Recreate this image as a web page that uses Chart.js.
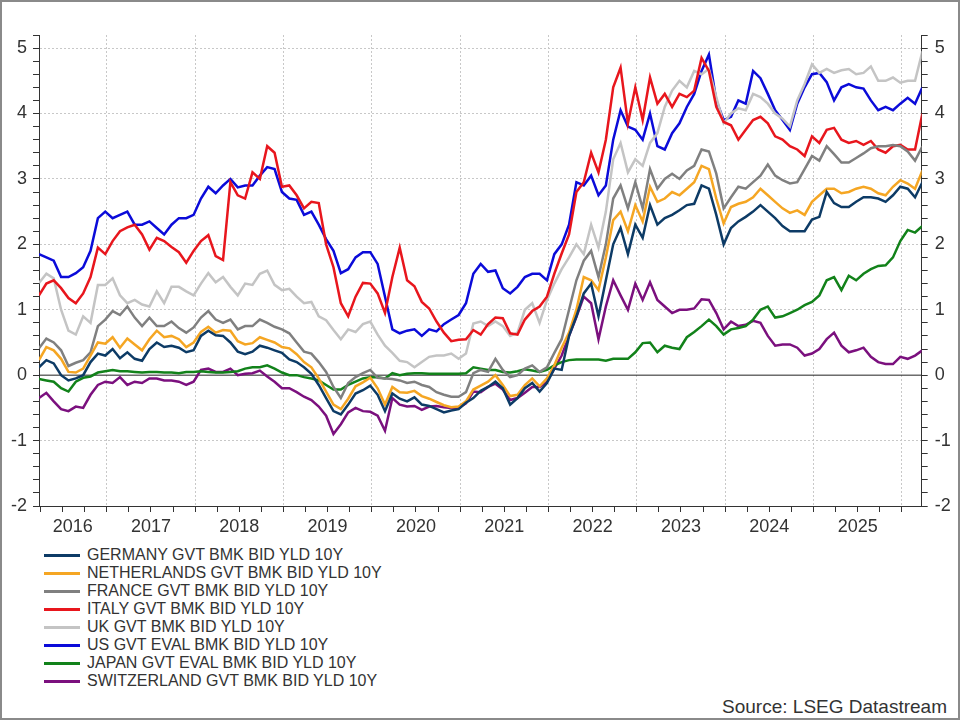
<!DOCTYPE html>
<html lang="en">
<head>
<meta charset="UTF-8">
<title>10Y government benchmark yields</title>
<script src="https://cdn.jsdelivr.net/npm/chart.js"></script>
<style>
  body { margin: 0; background: #fff; font-family: "Liberation Sans", Arial, sans-serif; color: #333; }
  #frame { position: absolute; left: 0; top: 0; width: 960px; height: 720px; box-sizing: border-box; border: 2px solid #8a8a8a; pointer-events: none; }
  #chart { position: absolute; left: 0; top: 0; }
  #legend { position: absolute; left: 44px; top: 546px; font-size: 16px; }
  .row { height: 18px; display: flex; align-items: center; white-space: nowrap; }
  .swatch { width: 36px; height: 3px; margin-right: 7px; }
  #source { position: absolute; right: 13px; top: 696px; font-size: 19px; }
</style>
</head>
<body>
<canvas id="chart" width="960" height="540"></canvas>
<div id="legend"></div>
<div id="source">Source: LSEG Datastream</div>
<div id="frame"></div>

<script>
// monthly observations, first one at the left edge of the plot (late March 2016)
const START = 2016.233;
const X_MIN = 2016.233;
const X_MAX = 2026.225;

const yearLabels = ['2016', '2017', '2018', '2019', '2020', '2021', '2022', '2023', '2024', '2025'];
const yLabels = [-2, -1, 0, 1, 2, 3, 4, 5];

const germany = [0.12,0.23,0.18,0.00,-0.08,-0.05,0.00,0.20,0.33,0.30, 0.40,0.26,0.35,0.25,0.22,0.40,0.50,0.43,0.45,0.42,
  0.35,0.38,0.60,0.68,0.61,0.60,0.50,0.36,0.32,0.36, 0.45,0.42,0.38,0.34,0.24,0.20,0.12,0.02,-0.15,-0.35,
  -0.55,-0.60,-0.45,-0.28,-0.23,-0.16,-0.30,-0.55,-0.28,-0.36, -0.40,-0.34,-0.45,-0.47,-0.52,-0.57,-0.54,-0.52,-0.42,-0.35,
  -0.24,-0.18,-0.10,-0.20,-0.45,-0.35,-0.20,-0.12,-0.25,-0.12, 0.10,0.08,0.60,0.90,1.25,1.40,0.90,1.45,2.00,2.25,
  1.85,2.30,2.10,2.60,2.30,2.40,2.45,2.52,2.60,2.62, 2.90,2.85,2.45,2.00,2.25,2.35,2.42,2.50,2.60,2.50,
  2.40,2.28,2.20,2.20,2.20,2.38,2.42,2.80,2.63,2.57, 2.57,2.65,2.72,2.72,2.70,2.65,2.75,2.88,2.85,2.72,
  2.95];

const netherlands = [0.23,0.43,0.38,0.25,0.05,0.04,0.10,0.30,0.50,0.48, 0.58,0.42,0.56,0.47,0.38,0.55,0.68,0.58,0.60,0.55,
  0.43,0.50,0.66,0.74,0.65,0.69,0.68,0.52,0.47,0.49, 0.58,0.54,0.50,0.43,0.41,0.32,0.20,0.12,-0.05,-0.25,
  -0.45,-0.52,-0.36,-0.17,-0.11,-0.04,-0.20,-0.45,-0.18,-0.26, -0.27,-0.24,-0.32,-0.36,-0.41,-0.46,-0.49,-0.48,-0.40,-0.22,
  -0.16,-0.10,0.00,-0.15,-0.32,-0.30,-0.15,-0.05,-0.17,-0.05, 0.15,0.42,0.65,1.00,1.50,1.45,1.30,1.80,2.37,2.50,
  2.20,2.60,2.35,2.88,2.65,2.70,2.80,2.75,2.85,2.95, 3.20,3.15,2.70,2.32,2.57,2.62,2.65,2.72,2.85,2.75,
  2.65,2.55,2.48,2.52,2.45,2.65,2.75,2.85,2.85,2.78, 2.80,2.85,2.88,2.85,2.78,2.75,2.88,2.98,2.93,2.85,
  3.13];

const france = [0.41,0.56,0.50,0.38,0.14,0.19,0.23,0.35,0.75,0.85, 0.98,0.92,1.05,0.88,0.75,0.88,0.75,0.75,0.82,0.72,
  0.65,0.73,0.88,0.98,0.85,0.80,0.85,0.70,0.75,0.75, 0.85,0.80,0.74,0.70,0.64,0.50,0.36,0.33,0.20,0.05,
  -0.18,-0.35,-0.12,-0.03,0.03,0.08,-0.04,-0.05,-0.06,-0.08, -0.12,-0.10,-0.15,-0.18,-0.26,-0.30,-0.33,-0.33,-0.26,0.03,
  0.08,0.05,0.25,0.08,-0.03,0.00,0.10,0.15,0.05,0.12, 0.34,0.55,1.00,1.45,1.75,1.90,1.50,2.00,2.70,2.90,
  2.55,2.95,2.55,3.15,2.85,3.00,3.08,3.00,3.13,3.20, 3.45,3.42,3.08,2.55,2.72,2.88,2.85,2.95,3.05,3.22,
  3.05,2.98,2.93,2.95,3.15,3.35,3.28,3.50,3.38,3.25, 3.25,3.32,3.39,3.47,3.50,3.50,3.52,3.50,3.42,3.28,
  3.50];

const italy = [1.22,1.40,1.45,1.33,1.18,1.10,1.25,1.50,1.95,1.85, 2.05,2.20,2.26,2.30,2.15,1.92,2.10,2.05,1.96,1.88,
  1.72,1.90,2.05,2.14,1.82,1.76,2.95,2.75,2.70,3.10, 3.00,3.50,3.40,2.88,2.90,2.75,2.55,2.65,2.63,2.00,
  1.65,1.10,0.90,1.20,1.41,1.40,1.25,0.95,1.50,1.95, 1.45,1.36,1.12,1.02,0.82,0.65,0.52,0.54,0.55,0.69,
  0.62,0.78,0.88,0.87,0.64,0.62,0.85,0.98,1.05,1.20, 1.55,1.86,2.15,2.80,2.95,3.40,3.10,3.60,4.40,4.70,
  3.85,4.40,3.90,4.55,4.15,4.30,4.10,4.30,4.25,4.35, 4.85,4.65,4.10,3.87,3.82,3.60,3.75,3.90,3.95,3.85,
  3.65,3.60,3.50,3.45,3.35,3.65,3.55,3.75,3.78,3.60, 3.55,3.58,3.52,3.58,3.45,3.40,3.50,3.52,3.45,3.45,
  4.00];

const uk = [1.41,1.55,1.48,1.00,0.68,0.62,0.90,0.80,1.38,1.38, 1.48,1.22,1.10,1.15,1.08,1.05,1.28,1.10,1.35,1.35,
  1.28,1.22,1.40,1.56,1.42,1.50,1.35,1.22,1.40,1.38, 1.55,1.60,1.38,1.30,1.32,1.20,1.10,1.12,0.90,0.84,
  0.69,0.55,0.70,0.66,0.78,0.82,0.62,0.45,0.34,0.22, 0.20,0.12,0.20,0.28,0.30,0.30,0.33,0.25,0.33,0.79,
  0.82,0.75,0.82,0.75,0.60,0.65,1.00,1.10,0.80,1.15, 1.40,1.62,1.80,2.00,1.85,2.30,1.95,2.50,3.30,3.55,
  3.10,3.30,3.20,3.55,3.70,4.10,4.35,4.50,4.40,4.65, 4.60,4.68,4.25,3.85,4.00,4.08,4.05,4.30,4.25,4.15,
  4.00,3.92,3.80,4.20,4.45,4.75,4.62,4.68,4.62,4.66, 4.68,4.60,4.62,4.72,4.50,4.50,4.55,4.47,4.50,4.50,
  4.95];

const us = [1.85,1.80,1.75,1.50,1.50,1.56,1.65,1.90,2.40,2.50, 2.40,2.45,2.50,2.30,2.30,2.35,2.25,2.15,2.30,2.40,
  2.40,2.45,2.70,2.88,2.78,2.90,3.00,2.87,2.90,2.90, 3.05,3.18,3.15,2.80,2.70,2.68,2.45,2.50,2.30,2.08,
  1.90,1.56,1.62,1.80,1.88,1.88,1.70,1.20,0.70,0.64, 0.68,0.70,0.60,0.70,0.67,0.78,0.85,0.92,1.10,1.55,
  1.70,1.58,1.60,1.33,1.25,1.35,1.50,1.55,1.55,1.45, 1.85,2.00,2.30,2.95,2.90,3.05,2.75,2.90,3.60,4.05,
  3.80,3.75,3.60,4.00,3.50,3.45,3.70,3.85,4.10,4.30, 4.65,4.90,4.20,3.90,3.95,4.20,4.15,4.65,4.54,4.30,
  4.05,3.90,3.75,4.15,4.40,4.60,4.62,4.48,4.20,4.40, 4.45,4.40,4.38,4.20,4.05,4.10,4.05,4.15,4.24,4.15,
  4.40];

const japan = [-0.06,-0.08,-0.10,-0.20,-0.25,-0.10,-0.04,-0.02,0.04,0.06, 0.08,0.06,0.06,0.05,0.04,0.05,0.05,0.04,0.04,0.03,
  0.05,0.05,0.06,0.05,0.04,0.04,0.05,0.06,0.10,0.12, 0.12,0.15,0.10,0.04,0.00,0.00,-0.03,-0.05,-0.08,-0.15,
  -0.22,-0.22,-0.15,-0.10,-0.05,-0.03,-0.03,-0.05,0.03,0.00, 0.02,0.03,0.03,0.02,0.02,0.02,0.02,0.02,0.03,0.12,
  0.10,0.08,0.08,0.05,0.04,0.06,0.09,0.07,0.05,0.08, 0.15,0.20,0.23,0.24,0.24,0.24,0.24,0.22,0.25,0.25,
  0.25,0.35,0.49,0.50,0.35,0.45,0.42,0.40,0.58,0.66, 0.75,0.85,0.75,0.62,0.70,0.72,0.75,0.85,1.00,1.05,
  0.88,0.90,0.95,1.00,1.07,1.12,1.22,1.45,1.50,1.30, 1.52,1.45,1.55,1.62,1.67,1.68,1.80,2.05,2.22,2.18,
  2.28];

const switzerland = [-0.35,-0.27,-0.40,-0.52,-0.55,-0.48,-0.50,-0.30,-0.15,-0.10, -0.12,-0.03,-0.15,-0.10,-0.12,-0.05,-0.05,-0.08,-0.08,-0.10,
  -0.15,-0.10,0.08,0.10,0.05,0.05,0.10,0.00,0.02,0.03, 0.07,-0.02,-0.10,-0.20,-0.20,-0.26,-0.33,-0.38,-0.48,-0.62,
  -0.90,-0.75,-0.57,-0.50,-0.55,-0.56,-0.62,-0.85,-0.35,-0.45, -0.48,-0.47,-0.53,-0.48,-0.47,-0.49,-0.50,-0.50,-0.43,-0.25,
  -0.26,-0.18,-0.13,-0.22,-0.38,-0.35,-0.27,-0.18,-0.18,-0.10, 0.10,0.30,0.60,0.89,1.20,1.10,0.55,1.05,1.45,1.22,
  1.00,1.40,1.15,1.42,1.15,1.05,0.95,1.00,1.00,1.02, 1.16,1.15,0.95,0.70,0.82,0.75,0.77,0.83,0.80,0.60,
  0.45,0.47,0.47,0.42,0.30,0.33,0.40,0.55,0.65,0.45, 0.35,0.38,0.42,0.28,0.20,0.17,0.17,0.28,0.25,0.30,
  0.38];

const series = [
  { label: 'GERMANY GVT BMK BID YLD 10Y', color: '#0d3b66', values: germany },
  { label: 'NETHERLANDS GVT BMK BID YLD 10Y', color: '#f5a623', values: netherlands },
  { label: 'FRANCE GVT BMK BID YLD 10Y', color: '#808080', values: france },
  { label: 'ITALY GVT BMK BID YLD 10Y', color: '#e8161d', values: italy },
  { label: 'UK GVT BMK BID YLD 10Y', color: '#c4c4c4', values: uk },
  { label: 'US GVT EVAL BMK BID YLD 10Y', color: '#0b0bd9', values: us },
  { label: 'JAPAN GVT EVAL BMK BID YLD 10Y', color: '#12821a', values: japan },
  { label: 'SWITZERLAND GVT BMK BID YLD 10Y', color: '#7b107e', values: switzerland }
];

const FONT = '"Liberation Sans", Arial, sans-serif';
const LABEL_2016 = 2016.615; // 2016 label sits in the middle of the visible part of the year

const isInt = v => Math.abs(v - Math.round(v)) < 1e-6;

// quarterly tick marks on the time axis, plus the extra spot for the 2016 label
const xTicks = [];
for (let q = 2016.25; q <= 2026; q += 0.25) xTicks.push(q);
xTicks.push(LABEL_2016);
xTicks.sort((a, b) => a - b);

const yTicks = [];
for (let i = 0; i <= 36; i++) yTicks.push(Math.round((-2 + i * 0.2) * 10) / 10);

function xLabel(v) {
  if (Math.abs(v - LABEL_2016) < 1e-6) return yearLabels[0];
  if (Math.abs(v % 1 - 0.5) < 1e-6 && v > 2017) {
    const lab = String(Math.floor(v));
    return yearLabels.includes(lab) ? lab : '';
  }
  return '';
}

function yLabel(v) {
  if (!isInt(v)) return '';
  const n = Math.round(v);
  return yLabels.includes(n) ? String(n) : '';
}

const datasets = series.map(s => ({
  label: s.label,
  data: s.values.map((v, i) => ({ x: START + i / 12, y: v })),
  borderColor: s.color,
  borderWidth: 2.5,
  pointRadius: 0,
  tension: 0
}));

// zero line, drawn under the series
datasets.push({
  label: 'zero',
  data: [{ x: X_MIN, y: 0 }, { x: X_MAX, y: 0 }],
  borderColor: '#222',
  borderWidth: 1,
  pointRadius: 0
});

function yAxis(pos) {
  return {
    position: pos,
    min: -2,
    max: 5.2,
    afterBuildTicks: s => { s.ticks = yTicks.map(v => ({ value: v })); },
    afterFit: s => { s.width = pos === 'left' ? 39 : 38.3; },
    grid: {
      drawOnChartArea: pos === 'left',
      color: c => (isInt(c.tick.value) && Math.round(c.tick.value) !== 0) ? '#c8c8c8' : 'rgba(0,0,0,0)',
      tickColor: '#333',
      tickLength: 6,
      lineWidth: 1
    },
    border: { color: '#333', width: 1, dash: [2, 2] },
    ticks: {
      autoSkip: false,
      padding: pos === 'left' ? 6 : 7,
      color: '#333',
      font: { family: FONT, size: 18 },
      callback: v => yLabel(v)
    }
  };
}

new Chart(document.getElementById('chart'), {
  type: 'line',
  data: { datasets },
  options: {
    responsive: false,
    animation: false,
    events: [],
    layout: { padding: { top: 35, left: 0, right: 0, bottom: 0 } },
    plugins: { legend: { display: false }, tooltip: { enabled: false } },
    scales: {
      x: {
        type: 'linear',
        min: X_MIN,
        max: X_MAX,
        afterBuildTicks: s => { s.ticks = xTicks.map(v => ({ value: v })); },
        afterFit: s => { s.height = 34; },
        grid: {
          color: c => isInt(c.tick.value) ? '#c8c8c8' : 'rgba(0,0,0,0)',
          tickColor: c => Math.abs(c.tick.value - LABEL_2016) < 1e-6 ? 'rgba(0,0,0,0)' : '#333',
          tickLength: 6,
          lineWidth: 1
        },
        border: { color: '#333', width: 1, dash: [2, 2] },
        ticks: {
          autoSkip: false,
          maxRotation: 0,
          padding: 4,
          color: '#333',
          font: { family: FONT, size: 18 },
          callback: v => xLabel(v)
        }
      },
      y: yAxis('left'),
      y2: yAxis('right')
    }
  }
});

// legend, one series per row
const legend = document.getElementById('legend');
series.forEach(s => {
  const row = document.createElement('div');
  row.className = 'row';
  const sw = document.createElement('span');
  sw.className = 'swatch';
  sw.style.background = s.color;
  const txt = document.createElement('span');
  txt.textContent = s.label;
  row.appendChild(sw);
  row.appendChild(txt);
  legend.appendChild(row);
});
</script>
</body>
</html>
